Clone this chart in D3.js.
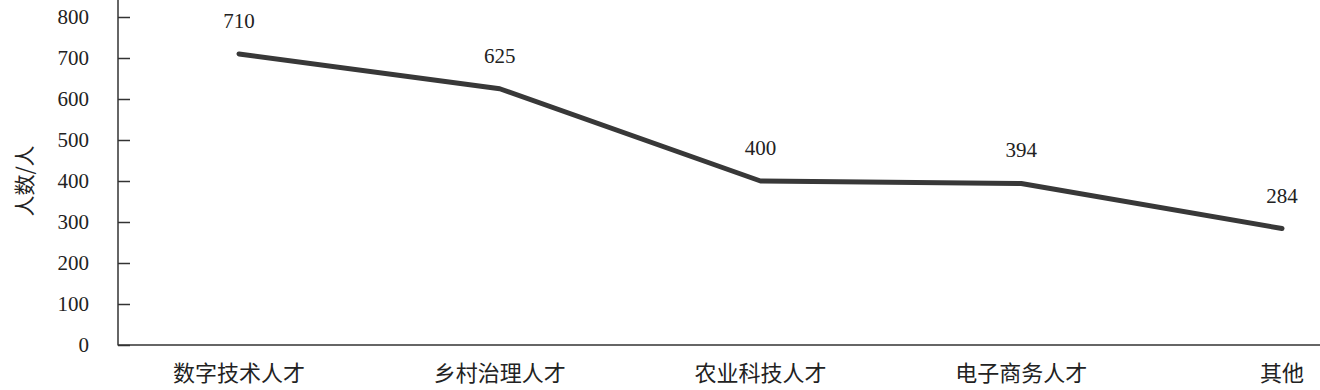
<!DOCTYPE html>
<html>
<head>
<meta charset="utf-8">
<script src="https://cdn.jsdelivr.net/npm/d3@7"></script>
<style>
  body { margin: 0; background: #fff; }
  svg { display: block; }
  .tick text { font-family: "Liberation Serif", "DejaVu Serif", serif; font-size: 21px; fill: #222; }
  .cat-label { font-family: "Noto Sans CJK SC", sans-serif; font-size: 22px; fill: #222; }
  .val-label { font-family: "Liberation Serif", serif; font-size: 21px; fill: #222; }
</style>
</head>
<body>
<svg width="1320" height="390"></svg>
<script>
  var categories = ["数字技术人才", "乡村治理人才", "农业科技人才", "电子商务人才", "其他"];
  var values = [710, 625, 400, 394, 284];
  var yTicks = [0, 100, 200, 300, 400, 500, 600, 700, 800];
  var yAxisLabel = "人数/人";

  var svg = d3.select("svg");
  var width = +svg.attr("width");
  var height = +svg.attr("height");
  var margin = { top: 17, right: 0, left: 118, bottom: 45 };
  var innerWidth = width - margin.left - margin.right;
  var innerHeight = height - margin.top - margin.bottom;

  var data = categories.map(function (c, i) { return { name: c, value: values[i] }; });

  var xScale = d3.scalePoint().domain(categories).range([121, 1164]);
  var yScale = d3.scaleLinear().domain([0, 800]).range([innerHeight, 0]);

  var g = svg.append("g")
    .attr("transform", "translate(" + margin.left + "," + margin.top + ")");

  // y axis, ticks pointing into the plot
  var yAxis = d3.axisLeft(yScale).tickValues(yTicks).tickSize(-12).tickPadding(29);
  var yAxisGroup = g.append("g").call(yAxis);
  yAxisGroup.select(".domain").remove();
  yAxisGroup.selectAll(".tick line").attr("stroke", "#333").attr("stroke-width", 1.5);

  g.append("line")
    .attr("x1", 0).attr("x2", 0)
    .attr("y1", -margin.top).attr("y2", innerHeight + 0.5)
    .attr("stroke", "#333").attr("stroke-width", 1.5);

  g.append("line")
    .attr("x1", 0).attr("x2", innerWidth)
    .attr("y1", innerHeight).attr("y2", innerHeight)
    .attr("stroke", "#333").attr("stroke-width", 1.5);

  // category labels
  g.selectAll(".cat-label").data(data).enter().append("text")
    .attr("class", "cat-label")
    .attr("x", function (d) { return xScale(d.name); })
    .attr("y", innerHeight + 36)
    .attr("text-anchor", "middle")
    .text(function (d) { return d.name; });

  // y axis label
  g.append("text")
    .attr("class", "cat-label")
    .style("font-size", "21px")
    .attr("transform", "rotate(-90)")
    .attr("x", -(yScale(400)))
    .attr("y", -86)
    .attr("text-anchor", "middle")
    .text(yAxisLabel);

  // line
  var lineGenerator = d3.line()
    .x(function (d) { return xScale(d.name); })
    .y(function (d) { return yScale(d.value); });

  g.append("path")
    .attr("d", lineGenerator(data))
    .attr("fill", "none")
    .attr("stroke", "#383838")
    .attr("stroke-width", 5)
    .attr("stroke-linejoin", "round")
    .attr("stroke-linecap", "round");

  // value labels
  g.selectAll(".val-label").data(data).enter().append("text")
    .attr("class", "val-label")
    .attr("x", function (d) { return xScale(d.name); })
    .attr("y", function (d) { return yScale(d.value) - 26; })
    .attr("text-anchor", "middle")
    .text(function (d) { return d.value; });
</script>
</body>
</html>
